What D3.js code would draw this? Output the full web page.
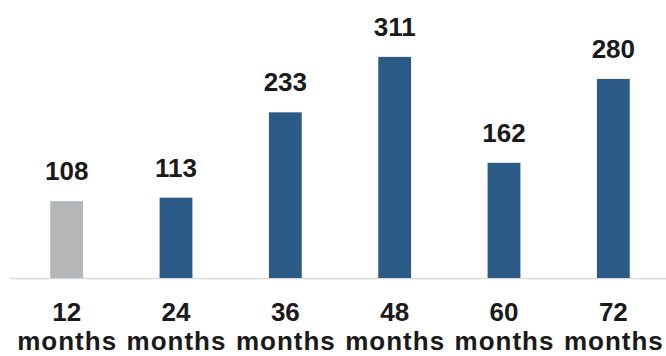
<!DOCTYPE html>
<html>
<head>
<meta charset="utf-8">
<script src="https://cdn.jsdelivr.net/npm/d3@7"></script>
<style>
  body { margin: 0; background: #fff; }
  text { font-family: "Liberation Sans", Arial, sans-serif; font-weight: bold; fill: #1a1a1a; }
</style>
</head>
<body>
<script>
// data
const months = ["12", "24", "36", "48", "60", "72"];
const values = [108, 113, 233, 311, 162, 280];
const barColors = ["#b5b6b8", "#2c5a86", "#2c5a86", "#2c5a86", "#2c5a86", "#2c5a86"];

const width = 666, height = 356;
const baseY = 278;

const svg = d3.select("body").append("svg")
    .attr("width", width)
    .attr("height", height);

const x = d3.scaleBand()
    .domain(months)
    .range([12, 668])
    .paddingInner(0.7)
    .paddingOuter(0.35);

// 0.711 px per unit, measured from the bars
const y = d3.scaleLinear()
    .domain([0, 350])
    .range([baseY, baseY - 350 * 0.711]);

// baseline
svg.append("line")
    .attr("x1", 10).attr("x2", width)
    .attr("y1", baseY + 0.5).attr("y2", baseY + 0.5)
    .attr("stroke", "#d9d9d9")
    .attr("stroke-width", 1.5);

svg.selectAll("rect.bar")
    .data(values)
    .join("rect")
    .attr("class", "bar")
    .attr("x", (d, i) => x(months[i]))
    .attr("width", x.bandwidth())
    .attr("y", d => y(d))
    .attr("height", d => baseY - y(d))
    .attr("fill", (d, i) => barColors[i]);

// value labels
svg.selectAll("text.val")
    .data(values)
    .join("text")
    .attr("class", "val")
    .attr("x", (d, i) => x(months[i]) + x.bandwidth() / 2)
    .attr("y", d => y(d) - 21)
    .attr("text-anchor", "middle")
    .attr("font-size", 26)
    .text(d => d);

// category labels, two lines
const cat = svg.selectAll("g.cat")
    .data(months)
    .join("g")
    .attr("class", "cat")
    .attr("transform", d => `translate(${x(d) + x.bandwidth() / 2},0)`);

cat.append("text")
    .attr("y", 321)
    .attr("text-anchor", "middle")
    .attr("font-size", 26)
    .text(d => d);

cat.append("text")
    .attr("y", 350)
    .attr("dx", 0.5)
    .attr("text-anchor", "middle")
    .attr("font-size", 26)
    .attr("letter-spacing", 1)
    .text("months");
</script>
</body>
</html>
